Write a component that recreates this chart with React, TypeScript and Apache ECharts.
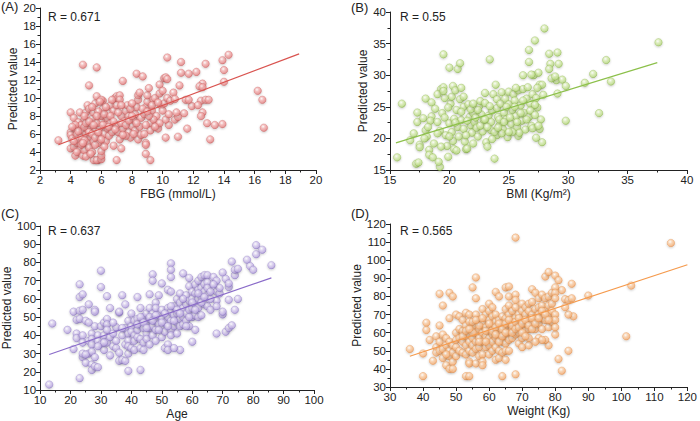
import React, { useEffect, useRef } from "react";
import * as echarts from "echarts";

// Panel A: FBG vs predicted
const dataA: number[][] = [
  [3.2,5.3],[4.8,13.7],[5.7,13.4],[5.2,11.4],[7.4,11.9],[8.3,12.7],[8.7,12.4],[10.3,14.5],[11.2,14],[11.2,12.8],[11.7,12.7],[12.2,12.9],[12.8,13.8],[13.9,14.2],[14.3,14.8],[14.0,13.1],[14.0,11.8],[12.6,11.6],[12.4,11.3],[12.6,11.2],[16.2,10.8],[16.5,9.8],[16.6,6.7],[13.1,5.4],[12.9,7.2],[13.4,7],[13.9,7.1],[11.6,6.6],[11.0,5.7],[10.2,5.6],[9.2,3.1],[8.9,3.8],[7.0,3.1],[5.5,3.1],[5.8,3.1],[5.7,3.1],[6.0,3.2],[6.0,3.6],[6.0,4.1],[6.8,4.7],[7.3,4.4],[8.9,5.0],[8.9,4.8],[11.4,8.3],[11.9,9.1],[11.5,9.8],[11.7,9.8],[12.5,9.7],[12.8,9.8],[13.0,9.8],[12.6,8.4],[12.5,8.0],[10.4,7.0],[10.8,7.6],[11.0,7.9],[12.3,9.2],
  [4.0,8.4],[4.0,6.2],[4.0,5.9],[4.1,5.5],[4.0,4.4],[4.2,4.6],[4.3,3.6],[4.4,5.0],[4.3,6.6],[4.2,7.8],[4.5,7.3],[4.4,6.0],[4.5,5.4],[4.6,4.2],[4.4,4.0],[4.2,5.2],[4.6,8.4],[4.6,6.9],
  [4.8,3.6],[4.9,4.2],[5.0,3.5],[4.7,5.6],[4.8,6.4],[4.9,7.6],[5.0,8.4],[5.1,9.2],[5.2,8.8],[5.0,6.0],[5.1,5.0],[5.2,4.5],[5.3,5.7],[5.3,6.8],[5.4,7.7],[5.5,8.4],[5.4,4.0],[5.5,5.2],[5.1,6.5],[4.7,7.0],[4.9,5.3],[5.3,3.8],[5.6,6.3],[5.6,9.4],[5.7,10.2],
  [5.8,5.0],[5.9,5.8],[5.9,6.7],[6.0,7.4],[6.0,8.0],[6.1,8.8],[6.1,9.7],[6.0,9.8],[5.9,9.6],[6.2,6.0],[6.3,5.2],[6.3,7.0],[6.4,7.8],[6.5,8.3],[6.2,4.6],[6.4,6.6],[6.5,5.8],[5.7,7.2],[5.8,8.5],[6.6,9.2],[6.6,7.2],[6.7,6.2],[6.8,8.6],[6.9,10.0],[7.0,10.2],[7.1,10.0],[7.2,10.3],[7.2,9.8],[7.0,9.2],[7.3,8.0],
  [7.0,7.0],[7.1,6.2],[7.2,5.4],[7.4,6.6],[7.5,7.4],[7.6,8.6],[7.7,9.2],[7.8,8.0],[7.8,6.2],[7.9,5.6],[8.0,6.9],[8.1,7.6],[8.2,8.2],[8.3,9.0],[8.4,9.8],[8.4,10.3],[8.5,10.6],[8.2,6.4],[8.4,5.4],[8.5,6.8],[7.6,5.8],[7.3,7.2],[7.9,8.8],[8.0,9.4],[8.6,7.8],[8.6,5.9],
  [8.8,8.2],[8.9,9.0],[9.0,9.6],[9.0,10.3],[9.1,11.1],[9.2,7.2],[9.2,6.4],[9.3,8.6],[9.4,9.8],[9.5,10.0],[9.6,8.0],[9.6,7.0],[9.7,6.6],[9.8,11.5],[9.8,10.5],[9.9,9.2],[10.0,10.8],[10.0,8.6],[10.1,12.2],[10.2,12.3],[10.3,12.1],[10.1,9.4],[10.2,7.6],[10.3,10.0],[10.5,9.7],[10.4,8.2],[9.4,7.6],[8.8,6.0],[9.1,8.0],[9.8,7.2],[10.7,10.6],[10.8,9.9],[11.1,11.4],[10.9,8.4],
  [4.3,7.0],[4.5,6.3],[4.7,4.8],[4.8,5.0],[4.9,6.8],[5.0,7.2],[5.2,6.2],[5.2,7.4],[5.4,6.0],[5.5,7.0],[5.6,4.8],[5.6,5.6],[5.7,8.0],[5.8,6.2],[6.0,5.4],[6.1,7.0],[6.2,8.2],[6.3,9.0],[6.5,6.8],[6.6,8.0],[6.8,7.4],[6.9,6.5],[7.1,8.4],[7.3,9.2],[7.4,5.9],[7.6,7.0],[7.8,7.5],[8.0,8.0],[8.1,6.0],[8.3,7.2],[8.7,8.8],[8.9,7.0],[9.0,8.5],[9.3,9.2],[9.5,6.8],[9.7,9.5],[4.1,6.8],[4.9,8.0],[5.4,9.0],[6.7,9.8]
];
const lineA: number[][] = [[3.2,4.8],[18.9,14.9]];

// Panel B: BMI vs predicted
const dataB: number[][] = [
  [15.6,17.0],[16.0,25.5],[17.2,16.0],[17.4,16.2],[19.5,33.3],[20.0,31.2],[20.7,31.0],[20.9,31.9],[19.2,15.5],[23.4,32.5],[23.8,16.8],[26.7,34],[26.7,32.1],[27.2,35.5],[28.0,37.4],[28.4,33.4],[28.5,31.8],[28.4,31.0],[29.1,33.6],[29.2,31.8],[29.0,29.2],[29.1,27.1],[29.5,29.3],[29.8,28.3],[29.8,22.8],[31.4,28.8],[32.1,30.2],[32.6,24.0],[33.2,32.4],[33.6,29.0],[37.6,35.2],[27.8,19.4],[27.3,20.1],[27.6,21.5],[28.6,29.5],[28.9,29.8],
  [16.7,19.7],[17.0,20.8],[17.3,24.1],[17.3,22.6],[17.5,19.0],[17.5,18.6],[17.8,23.2],[18.0,26.3],[18.0,21.3],[18.1,20.3],[18.3,18.2],[18.3,17.4],[18.5,25.7],[18.5,23.5],[18.4,22.8],[17.9,20.0],[18.2,21.8],[18.7,19.2],[18.6,17.0],
  [18.8,24.7],[19.0,22.6],[19.2,21.2],[19.3,27.8],[19.5,28.1],[19.4,24.0],[19.6,23.3],[19.7,20.5],[19.8,18.8],[19.3,18.7],[19.1,16.3],[19.9,17.1],[20.1,25.5],[20.2,26.6],[20.3,28.3],[20.0,22.4],[20.2,21.0],[20.3,19.6],[20.4,18.3],[19.9,24.9],[19.6,26.4],[20.5,27.6],[20.6,24.5],[20.4,23.1],[20.7,21.8],[20.8,20.3],[20.6,18.1],[19.0,27.0],[19.5,27.5],
  [20.9,26.2],[21.0,28.0],[21.2,25.0],[21.0,22.9],[21.2,21.5],[21.3,19.5],[21.4,18.3],[21.2,26.6],[21.6,25.4],[21.7,23.4],[21.8,22.1],[21.9,20.9],[21.5,18.4],[22.0,24.0],[22.1,22.6],[22.3,21.7],[22.4,20.3],[22.5,25.1],[22.6,25.9],[22.7,23.8],[22.9,22.9],[22.8,21.1],[23.0,25.6],[23.1,19.4],[23.2,18.7],[22.2,23.3],
  [23.3,23.6],[23.5,22.6],[23.5,21.3],[23.6,24.4],[23.7,27.0],[23.9,28.5],[24.0,26.2],[24.0,24.8],[24.1,23.4],[24.0,20.5],[24.2,22.0],[24.3,25.5],[24.4,27.3],[24.5,21.5],[24.6,24.1],[24.7,26.3],[24.8,23.0],[24.9,20.2],[25.0,27.4],[25.0,25.4],[24.4,20.8],[23.8,21.0],[23.4,25.1],
  [25.2,22.3],[25.3,24.5],[25.4,27.0],[25.5,26.0],[25.6,23.5],[25.7,21.8],[25.8,20.4],[25.9,20.9],[25.8,27.6],[26.0,25.2],[26.1,22.8],[26.2,27.8],[26.3,24.0],[26.4,21.4],[26.5,26.3],[26.6,28.1],[26.7,23.4],[26.8,25.5],[26.9,22.0],[27.0,21.6],[27.0,27.0],[27.1,30.0],[27.3,26.4],[27.4,24.9],[27.5,30.4],[27.6,28.5],[27.7,23.0],[27.8,28.5],[27.9,26.9],[27.5,22.0],[27.2,25.3],[26.2,30.0],[25.6,28.0],[26.9,30.1],
  [20.5,22.5],[21.0,24.2],[21.4,20.5],[21.8,24.6],[22.0,19.2],[22.4,24.5],[22.6,22.0],[23.0,23.0],[23.2,21.8],[23.6,19.9],[24.2,23.0],[24.6,22.6],[24.8,25.0],[25.1,23.3],[25.3,21.0],[25.5,25.0],[25.7,22.6],[26.0,24.0],[26.2,26.0],[26.5,23.0],[26.8,24.4],[27.2,23.7],[27.4,28.0],[25.0,21.0],[24.1,21.7],[23.0,27.2],[22.0,25.5],[21.5,22.8],[20.0,20.3],[19.0,20.8]
];
const lineB: number[][] = [[15.5,19.3],[37.5,32.0]];

// Panel C: Age vs predicted
const dataC: number[][] = [
  [13,13],[14,46.5],[19,43],[21,32.5],[21,53],[23,68],[23,61],[23,16.5],[24,62.5],[30,75.5],[30,66.5],[32,61.5],[37,62],[42,61],[43,21],[39,20.5],[47,73.5],[47,70],[50,68.5],[53,79.5],[53,76],[53,72],[57,74],[60,36.5],[56,32],[71,42],[72,44],[73,45.5],[68,41],[73,80.5],[78,81.5],[79,78],[80,76],[81,89.5],[81,84.5],[83,87],[86,78.5],[74,73],[74,76],[75,76.5],[75,60],[74,54],[72,59.5],[70,51.5],[70,53],[70,74.5],[71,71],[72,66.5],[72,68.5],
  [22,48.5],[22,41],[22,38.5],[23,53.5],[23,49],[24,54],[24,40],[24,36],[24,28],[24,30],[25,25],[25,48],[26,47],[26,37],[26,30],[26,57],[27,41],[27,38],[27,35],[27,31],[27,24],[27,21],[28,54],[28,53],[28,28],[28,23],[28,45],[29,40],[29,37],[29,22.5],[25,29.5],
  [30,45],[30,35],[31,40],[31,32],[31,47],[32,49],[32,46],[32,43],[32,36],[33,55],[33,39],[33,29],[34,34],[34,41],[35,44.5],[35,37],[35,33],[36,52.5],[36,53],[36,30.5],[36,26],[37,40],[37,26.5],[38,57],[38,44],[38,35],[38,26],[39,48],[39,41],[39,37],[39,30],[39,34],[40,52],[40,45],[40,33],[40,42],
  [41,48],[41,40],[41,37],[41,32],[42,49],[42,43],[42,39],[43,55],[43,46],[43,38],[43,33],[44,50],[44,44],[44,36],[45,52],[45,47],[45,41],[45,38],[46,62.5],[46,55],[46,49],[46,44],[46,35],[47,52],[47,45],[47,40],[48,58],[48,55],[48,48],[48,43],[48,37],[49,62],[49,51],[49,46],[50,54],[50,49],[50,44],[50,39],[44,32],
  [51,47],[51,42],[51,33],[52,65],[52,55],[52,50],[52,35],[52,32],[53,64],[53,53],[53,48],[53,43],[53,40],[54,56],[54,51],[54,45],[55,60],[55,52],[55,47],[55,41],[56,63],[56,58],[56,49],[56,45],[57,55],[57,50],[57,46],[58,62],[58,57],[58,52],[58,48],[59,71.5],[59,67],[59,59],[59,54],[59,45],[60,64],[60,60],[60,55],[60,50],[54,33],
  [61,68],[61,63],[61,57],[61,51],[61,43],[62,70],[62,65],[62,60],[62,55],[62,50],[63,72],[63,66],[63,61],[63,51],[64,73],[64,68],[64,64],[64,57],[65,73],[65,69],[65,62],[65,56],[66,54],[67,72],[67,65],[68,70],[68,64],[68,59],[68,56],[69,63],[69,66],[66,60],
  [42,46],[43,50],[44,47],[45,44],[46,50],[47,48],[48,51],[49,43],[50,47],[51,52],[52,45],[53,56],[54,48],[55,54],[56,52],[57,60],[58,45],[59,50],[60,58],[61,54],[62,63],[63,58],[64,61],[65,66],[66,64],[67,68],[37,44],[34,47],[31,36],[29,34]
];
const lineC: number[][] = [[13,29.5],[86,71.5]];

// Panel D: Weight vs predicted
const dataD: number[][] = [
  [36,51],[40,48.5],[40,36],[41,65.5],[41,61.5],[42,56],[43,44.5],[44,58],[45,81.5],[45,64],[46,75],[48,82],[49,80],[48,68],[53,36],[54,36],[55,85],[56,90.5],[56,79],[62,82.5],[64,36],[65,85],[66,85.5],[68,112.5],[68,37],[77,91],[78,93.5],[80,91.5],[81,89],[82,83.5],[82,39],[81,45.5],[84,50],[83,78.5],[84,78],[85,87],[85,79],[85.5,69],[84,70],[83,74],[90,80.5],[101.5,58],[103,86],[115,109.5],[78,53],[77,56],[80,59],
  [44,52],[44,49],[45,55],[45,50],[46,59],[46,51],[46,46],[47,57],[47,53],[47,42],[48,55],[48,50],[48,47],[48,40],[49,53],[49,49],[49,44],[49,40],[50,70],[50,60],[50,56],[50,52],[50,47],[51,69],[51,62],[51,57],[51,50],[47,48],
  [52,67],[52,61],[52,55],[52,49],[53,71],[53,64],[53,58],[53,53],[53,48],[54,70],[54,66],[54,59],[54,55],[54,50],[54,44],[54,43],[55,62],[55,57],[55,53],[55,49],[56,70],[56,64],[56,60],[56,55],[56,51],[56,43],[57,67],[57,62],[57,57],[57,52],[57,47],[58,73],[58,65],[58,60],[58,55],[58,48],[58,44],[58,42],
  [59,70],[59,63],[59,58],[59,52],[60,76],[60,72],[60,67],[60,62],[60,57],[60,53],[60,48],[61,74],[61,69],[61,64],[61,59],[61,55],[61,50],[62,70],[62,66],[62,61],[62,57],[62,52],[62,45],[63,80],[63,67],[63,62],[63,58],[63,50],[63,46],[64,69],[64,65],[64,60],[64,55],[64,49],[65,73],[65,68],[65,63],[65,58],[65,54],[65,45],[65,50],[66,80],[66,75],[66,70],[66,65],[66,60],[66,56],[66,50],
  [67,72],[67,67],[67,62],[67,57],[68,81],[68,78],[68,74],[68,68],[68,64],[68,59],[69,70],[69,66],[69,60],[69,54],[70,76],[70,72],[70,67],[70,63],[70,57],[70,52],[71,74],[71,70],[71,65],[71,61],[72,76],[72,72],[72,67],[72,62],[72,53],[73,84],[73,77],[73,70],[73,65],[74,82],[74,73],[74,68],[74,62],[75,79],[75,74],[75,70],[75,65],[75,57],[76,81],[76,75],[76,68],[76,62],[77,79],[77,72],[77,67],[78,80],[78,75],[78,70],[78,63],[79,82],[79,76],[79,72],[79,66],[80,85],[80,82],[80,79],[80,70],[80,67],[80,63],[76,56],[74,55],[72,57],
  [52,58],[53,61],[55,60],[55,66],[57,64],[57,55],[59,61],[59,55],[60,65],[61,61],[62,63],[62,59],[63,65],[63,55],[64,62],[64,58],[65,65],[65,60],[66,67],[67,64],[67,60],[68,66],[68,62],[69,68],[69,63],[70,65],[70,60],[71,67],[71,58],[72,64],[73,68],[73,62],[74,65],[75,68],[76,72],[77,70],[78,67],[54,62],[56,67],[58,68]
];
const lineD: number[][] = [[36,47],[120,97.5]];

const panelLabels = ["(A)", "(B)", "(C)", "(D)"];
const rLabels = ["R = 0.671", "R = 0.55", "R = 0.637", "R = 0.565"];
const xNames = ["FBG (mmol/L)", "BMI (Kg/m\u00B2)", "Age", "Weight (Kg)"];
const yName = "Predicted value";

const FONT = "'Liberation Sans', Arial, Helvetica, sans-serif";

export default function App() {
  const ref = useRef<HTMLDivElement>(null);
  useEffect(() => {
    if (!ref.current) return;
    const chart = echarts.init(ref.current, null, { renderer: "svg" });

    const grids = [
      { left: 40, top: 8, width: 276, height: 162 },
      { left: 390, top: 12, width: 297, height: 158 },
      { left: 40, top: 226, width: 274, height: 165 },
      { left: 390, top: 224, width: 300, height: 163 },
    ];
    const xr = [
      { min: 2, max: 20, interval: 2 },
      { min: 15, max: 40, interval: 5 },
      { min: 10, max: 100, interval: 10 },
      { min: 30, max: 120, interval: 10 },
    ];
    const yr = [
      { min: 2, max: 20, interval: 2 },
      { min: 15, max: 40, interval: 5 },
      { min: 10, max: 100, interval: 10 },
      { min: 30, max: 120, interval: 10 },
    ];
    const colors = [
      { light: "#f6b8b8", mid: "#e88a8a", dark: "#c65858", line: "#d9534f" },
      { light: "#dcefb8", mid: "#bcdc86", dark: "#86b046", line: "#8cc04a" },
      { light: "#ddd2f2", mid: "#bba8e2", dark: "#8470bc", line: "#8a6bc9" },
      { light: "#fcd3ae", mid: "#f7b27a", dark: "#e08a44", line: "#f59a4c" },
    ];
    const datas = [dataA, dataB, dataC, dataD];
    const lines = [lineA, lineB, lineC, lineD];

    const axisCommon = {
      axisLine: { show: true, lineStyle: { color: "#222", width: 1 } },
      axisTick: { show: true, length: 4, lineStyle: { color: "#222" } },
      minorTick: { show: true, splitNumber: 2, length: 2.5, lineStyle: { color: "#222" } },
      splitLine: { show: false },
      axisLabel: { color: "#222", fontSize: 11.5, fontFamily: FONT },
      nameTextStyle: { color: "#222", fontSize: 12, fontFamily: FONT },
    };

    const xAxis = grids.map((_, i) => ({
      type: "value",
      gridIndex: i,
      ...xr[i],
      ...axisCommon,
      axisLabel: { ...axisCommon.axisLabel, margin: 4 },
      name: xNames[i],
      nameLocation: "middle",
      nameGap: 18,
    }));
    const yAxis = grids.map((_, i) => ({
      type: "value",
      gridIndex: i,
      ...yr[i],
      ...axisCommon,
      axisLabel: { ...axisCommon.axisLabel, margin: 4 },
      name: yName,
      nameLocation: "middle",
      nameGap: 20,
    }));

    const series: any[] = [];
    datas.forEach((d, i) => {
      const c = colors[i];
      series.push({
        type: "scatter",
        xAxisIndex: i,
        yAxisIndex: i,
        data: d,
        symbolSize: 7.5,
        itemStyle: {
          color: {
            type: "radial",
            x: 0.4,
            y: 0.35,
            r: 0.7,
            colorStops: [
              { offset: 0, color: "#ffffff" },
              { offset: 0.35, color: c.light },
              { offset: 0.8, color: c.mid },
              { offset: 1, color: c.dark },
            ],
          },
          borderColor: c.dark,
          borderWidth: 0.4,
          shadowBlur: 2,
          shadowColor: "rgba(0,0,0,0.25)",
          shadowOffsetY: 1,
        },
        z: 2,
      });
      series.push({
        type: "line",
        xAxisIndex: i,
        yAxisIndex: i,
        data: lines[i],
        symbol: "none",
        lineStyle: { color: c.line, width: 1.2 },
        z: 3,
      });
    });

    const labelPos = [
      [1, 7], [351, 8], [1, 214], [351, 214],
    ];
    const rPos = [
      [48, 18], [400, 18], [48, 232], [400, 232],
    ];
    const graphic: any[] = [];
    panelLabels.forEach((t, i) => {
      graphic.push({
        type: "text",
        left: labelPos[i][0],
        top: labelPos[i][1] - 7,
        style: { text: t, fontSize: 13, fontFamily: FONT, fill: "#222" },
      });
      graphic.push({
        type: "text",
        left: rPos[i][0],
        top: rPos[i][1] - 7,
        style: { text: rLabels[i], fontSize: 12, fontFamily: FONT, fill: "#222" },
      });
    });

    chart.setOption({
      animation: false,
      backgroundColor: "#ffffff",
      grid: grids,
      xAxis,
      yAxis,
      series,
      graphic,
    });
    return () => chart.dispose();
  }, []);

  return (
    <div
      ref={ref}
      style={{ position: "fixed", left: 0, top: 0, width: 700, height: 421 }}
    />
  );
}
